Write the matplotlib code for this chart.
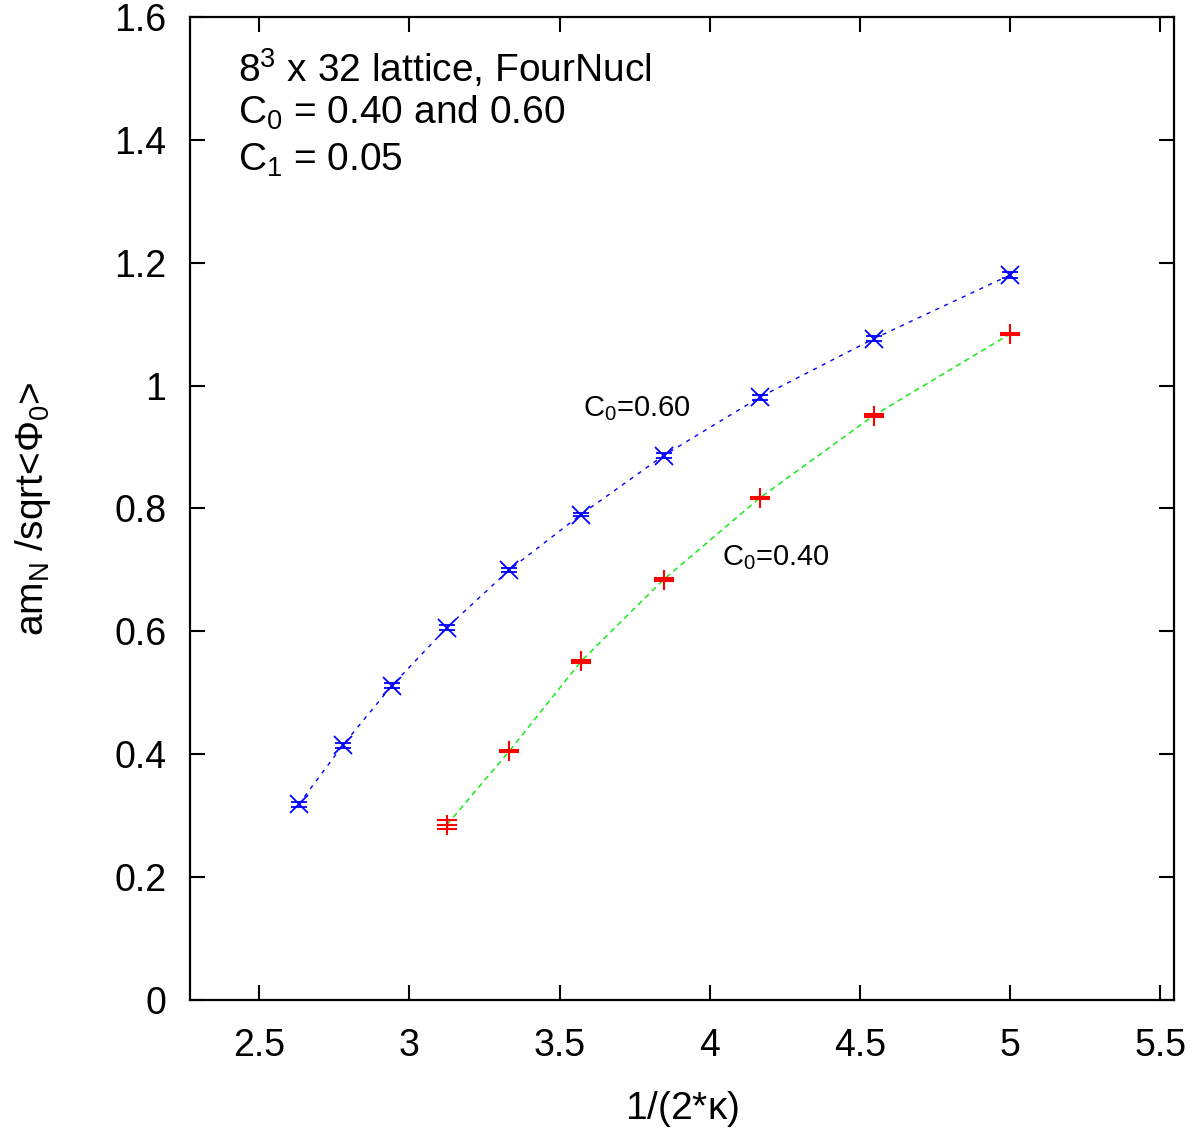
import numpy as np
import matplotlib.pyplot as plt

plt.rcParams['font.family'] = ['Liberation Sans', 'DejaVu Sans']
plt.rcParams['mathtext.fontset'] = 'custom'
plt.rcParams['mathtext.rm'] = 'Liberation Sans'
plt.rcParams['mathtext.it'] = 'Liberation Sans'

# C0 = 0.60
kappa_06 = [0.19, 0.18, 0.17, 0.16, 0.15, 0.14, 0.13, 0.12, 0.11, 0.10]
mass_06 = [0.318, 0.414, 0.511, 0.606, 0.700, 0.790, 0.886, 0.981, 1.076, 1.180]
err_06 = [0.004, 0.004, 0.004, 0.004, 0.003, 0.003, 0.004, 0.004, 0.004, 0.005]

# C0 = 0.40
kappa_04 = [0.16, 0.15, 0.14, 0.13, 0.12, 0.11, 0.10]
mass_04 = [0.285, 0.405, 0.551, 0.684, 0.817, 0.951, 1.084]
err_04 = [0.0075, 0.002, 0.002, 0.002, 0.002, 0.002, 0.002]

x06 = 1 / (2 * np.array(kappa_06))
x04 = 1 / (2 * np.array(kappa_04))

fig = plt.figure(figsize=(11.99, 11.31), dpi=100)
ax = fig.add_axes([0.1585, 0.116, 0.8205, 0.869])

ax.plot(x06, mass_06, color='blue', linestyle=(0, (3, 4)), linewidth=1)
ax.errorbar(x06, mass_06, yerr=err_06, fmt='x', color='blue', markersize=13,
            markeredgewidth=1.3, elinewidth=1, capsize=6, capthick=1)

ax.plot(x04, mass_04, color='#00ee00', linestyle=(0, (4, 3)), linewidth=1)
ax.errorbar(x04, mass_04, yerr=err_04, fmt='+', color='red', markersize=15,
            markeredgewidth=1.5, elinewidth=1, capsize=7, capthick=1.3)

ax.set_xlim(2.27, 5.545)
ax.set_ylim(0, 1.6)
ax.set_xticks([2.5, 3, 3.5, 4, 4.5, 5, 5.5])
ax.set_xticklabels(['2.5', '3', '3.5', '4', '4.5', '5', '5.5'])
ax.set_yticks([0, 0.2, 0.4, 0.6, 0.8, 1.0, 1.2, 1.4, 1.6])
ax.set_yticklabels(['0', '0.2', '0.4', '0.6', '0.8', '1', '1.2', '1.4', '1.6'])

ax.tick_params(direction='in', length=11, width=1.5, top=True, right=True,
               labelsize=27)
ax.tick_params(axis='x', pad=20)
ax.tick_params(axis='y', pad=17)
for s in ax.spines.values():
    s.set_linewidth(1.6)

ax.set_xlabel(r'1/(2*$\kappa$)', fontsize=28, labelpad=18)
ax.set_ylabel(r'am$_\mathrm{N}$ /sqrt<$\Phi_0$>', fontsize=28, labelpad=44)

ax.text(2.43, 1.494, r'8$^3$ x 32 lattice, FourNucl', fontsize=28)
ax.text(2.43, 1.426, r'C$_0$ = 0.40 and 0.60', fontsize=28)
ax.text(2.43, 1.350, r'C$_1$ = 0.05', fontsize=28)

ax.text(3.578, 0.95, r'C$_0$=0.60', fontsize=21)
ax.text(4.04, 0.708, r'C$_0$=0.40', fontsize=21)

fig.savefig('out.png', dpi=100)
